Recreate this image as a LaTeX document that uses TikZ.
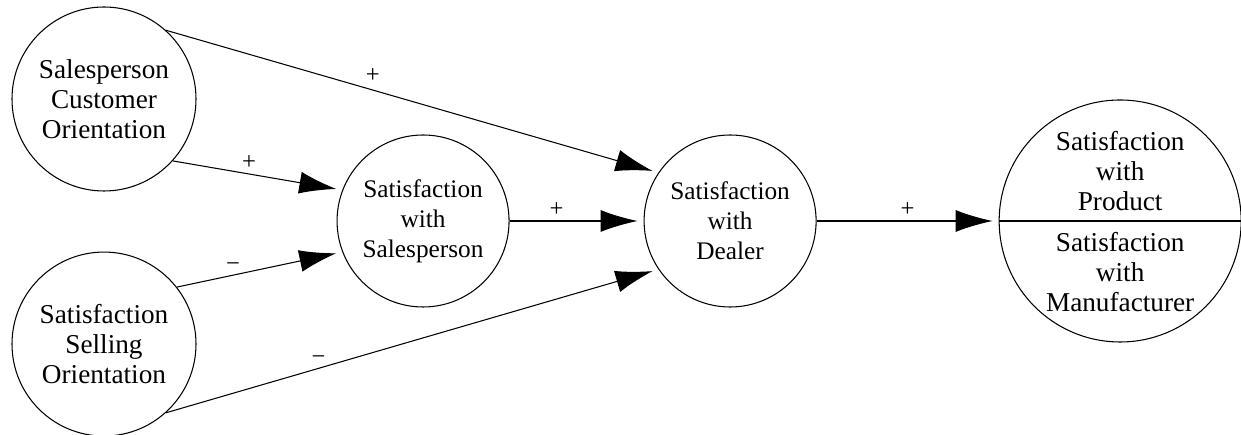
\documentclass[tikz,border=0pt]{standalone}
\usepackage{fontspec}
\setmainfont{Liberation Serif}
\usetikzlibrary{arrows.meta,positioning}

\begin{document}
\begin{tikzpicture}[
        line width=0.6pt,
        construct/.style={circle, draw, align=center, inner sep=0pt, minimum size=3.68cm, font=\fontsize{15.5}{17}\selectfont},
        mediator/.style={construct, minimum size=3.44cm, font=\fontsize{14.4}{17}\selectfont},
        splitcircle/.style={circle, draw, inner sep=0pt, minimum size=4.84cm},
        outtext/.style={align=center, font=\fontsize{15.5}{17}\selectfont},
        arrow/.style={->, >={Latex[length=7.4mm,width=4.4mm]}, shorten >=1.2mm},
        sign/.style={above, inner sep=2pt, font=\fontsize{14}{14}\selectfont}
    ]
    \useasboundingbox (-2.08,1.98) rectangle (22.74,-6.72);

    % Antecedents
    \node[construct] (cust) {Salesperson\\Customer\\Orientation};
    \node[construct, below=1.2cm of cust] (sell) {Satisfaction\\Selling\\Orientation};

    % Satisfaction constructs
    \node[mediator, right=2.8cm of cust, yshift=-2.44cm] (salesp) {Satisfaction\\with\\Salesperson};
    \node[mediator, right=2.68cm of salesp] (dealer) {Satisfaction\\with\\Dealer};

    % Outcome (split circle)
    \node[splitcircle, right=3.64cm of dealer] (outcome) {};
    \draw (outcome.west) -- (outcome.east);
    \node[outtext] (product) at ([yshift=1cm]outcome.center) {Satisfaction\\with\\Product};
    \node[outtext] (manuf) at ([yshift=-1.02cm]outcome.center) {Satisfaction\\with\\Manufacturer};

    % Arrows
    \draw[arrow] (cust.48) -- node[sign, pos=0.42, yshift=2pt] {+} (dealer.146);
    \draw[arrow] (cust.-42) -- node[sign, pos=0.45] {+} (salesp.159);
    \draw[arrow] (sell.38) -- node[sign, pos=0.34] {−} (salesp.201);
    \draw[arrow] (sell.-48) -- node[sign, pos=0.31] {−} (dealer.214);
    \draw[arrow] (salesp.east) -- node[sign, pos=0.35] {+} (dealer.west);
    \draw[arrow] (dealer.east) -- node[sign, pos=0.5] {+} (outcome.west);

\end{tikzpicture}
\end{document}
